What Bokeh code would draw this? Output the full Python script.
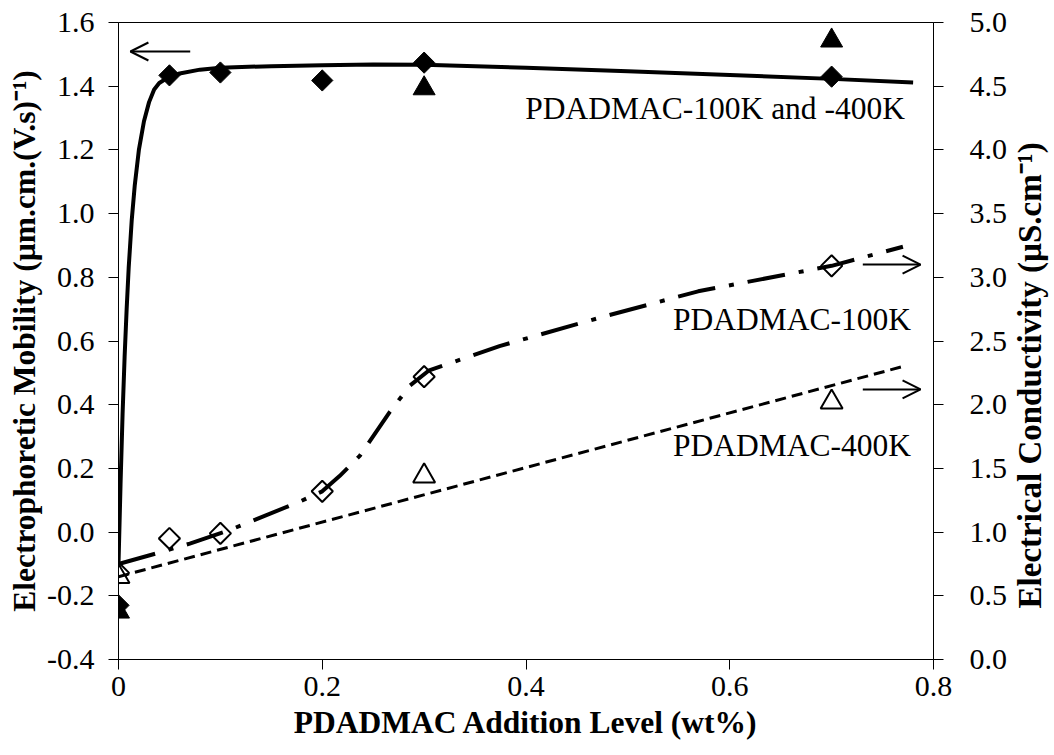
import math
from bokeh.plotting import figure
from bokeh.layouts import row
from bokeh.models import Range1d, LinearAxis, FixedTicker, Arrow, OpenHead, Label
from bokeh.core.properties import value
from bokeh.embed import file_html
from bokeh.resources import INLINE

# ---- tick values / labels ----
x_ticks = [0, 0.2, 0.4, 0.6, 0.8]
x_tick_labels = ["0", "0.2", "0.4", "0.6", "0.8"]
left_ticks = [-0.4, -0.2, 0.0, 0.2, 0.4, 0.6, 0.8, 1.0, 1.2, 1.4, 1.6]
left_tick_labels = ["-0.4", "-0.2", "0.0", "0.2", "0.4", "0.6", "0.8", "1.0", "1.2", "1.4", "1.6"]
right_ticks = [0.0, 0.5, 1.0, 1.5, 2.0, 2.5, 3.0, 3.5, 4.0, 4.5, 5.0]
right_tick_labels = ["0.0", "0.5", "1.0", "1.5", "2.0", "2.5", "3.0", "3.5", "4.0", "4.5", "5.0"]

# ---- electrophoretic mobility (left axis), filled markers ----
mob100_x = [0, 0.05, 0.1, 0.2, 0.3, 0.7]
mob100_y = [-0.23, 1.434, 1.443, 1.418, 1.474, 1.43]
mob400_x = [0, 0.3, 0.7]
mob400_y = [-0.25, 1.393, 1.543]

# fitted mobility curve
mobfit_x = [0, 0.002, 0.004, 0.006, 0.008, 0.010, 0.013, 0.016, 0.020, 0.025, 0.030,
            0.035, 0.040, 0.050, 0.060, 0.080, 0.10, 0.15, 0.20, 0.25, 0.30, 0.40,
            0.50, 0.60, 0.70, 0.78]
mobfit_y = [-0.10, 0.15, 0.37, 0.55, 0.70, 0.83, 0.98, 1.09, 1.20, 1.29, 1.35,
            1.39, 1.41, 1.43, 1.44, 1.452, 1.458, 1.463, 1.466, 1.468, 1.467, 1.458,
            1.447, 1.435, 1.423, 1.412]

# ---- electrical conductivity (right axis), open markers ----
cond100_x = [0, 0.05, 0.1, 0.2, 0.3, 0.7]
cond100_y = [0.68, 0.95, 0.99, 1.32, 2.22, 3.09]
cond400_x = [0, 0.3, 0.7]
cond400_y = [0.65, 1.44, 2.02]

cond100fit_x = [0, 0.036, 0.07, 0.107, 0.126, 0.178, 0.2, 0.217, 0.237, 0.266, 0.286,
                0.305, 0.374, 0.471, 0.569, 0.7, 0.77]
cond100fit_y = [0.75, 0.83, 0.91, 1.01, 1.07, 1.24, 1.32, 1.44, 1.60, 1.94, 2.15,
                2.27, 2.46, 2.68, 2.89, 3.09, 3.24]
cond400fit_x = [0, 0.77]
cond400fit_y = [0.65, 2.30]

# ---- annotation texts ----
label_text = ["PDADMAC-100K and -400K", "PDADMAC-100K", "PDADMAC-400K"]
x_title = "PDADMAC Addition Level (wt%)"
left_title = "Electrophoretic Mobility (µm.cm.(V.s)⁻¹)"
right_title = "Electrical Conductivity (µS.cm⁻¹)"

# ---- layout/positions (not data) ----
label_x = [0.772, 0.778, 0.778]
label_y = [1.33, 0.668, 0.271]

FONT = "Liberation Serif"

p = figure(width=1010, height=755, output_backend="svg", toolbar_location=None,
           x_range=Range1d(0, 0.8), y_range=Range1d(-0.4, 1.6),
           min_border_left=118, min_border_right=74, min_border_top=22,
           min_border_bottom=96)
p.extra_y_ranges = {"right": Range1d(0, 5)}
p.background_fill_color = "white"
p.border_fill_color = "white"
p.outline_line_color = "black"
p.outline_line_width = 1
p.xgrid.visible = False
p.ygrid.visible = False


def style_axis(ax, ticks, labels, standoff):
    ax.ticker = FixedTicker(ticks=ticks)
    ax.major_label_overrides = {t: l for t, l in zip(ticks, labels)}
    ax.minor_tick_line_color = None
    ax.major_tick_in = 0
    ax.major_tick_out = 10
    ax.axis_line_color = "black"
    ax.major_tick_line_color = "black"
    ax.major_label_text_font = FONT
    ax.major_label_text_font_size = "30px"
    ax.major_label_text_color = "black"
    ax.major_label_standoff = standoff
    ax.axis_label_text_font = FONT
    ax.axis_label_text_font_size = "31.5px"
    ax.axis_label_text_font_style = "bold"
    ax.axis_label_text_color = "black"


style_axis(p.xaxis[0], x_ticks, x_tick_labels, 7)
p.xaxis[0].axis_label = x_title
p.xaxis[0].axis_label_standoff = 6

style_axis(p.yaxis[0], left_ticks, left_tick_labels, 14)
p.yaxis[0].axis_label = left_title
p.yaxis[0].axis_label_standoff = 2

raxis = LinearAxis(y_range_name="right")
style_axis(raxis, right_ticks, right_tick_labels, 26)
p.add_layout(raxis, "right")

# open markers (conductivity)
p.scatter(cond100_x, cond100_y, y_range_name="right", marker="square", angle=math.pi / 4,
          size=15, fill_color="white", line_color="black", line_width=2)
p.scatter(cond400_x, cond400_y, y_range_name="right", marker="triangle",
          size=22, fill_color="white", line_color="black", line_width=2)

# fitted curves
p.line(mobfit_x, mobfit_y, line_color="black", line_width=4)
p.line(cond100fit_x, cond100fit_y, y_range_name="right", line_color="black",
       line_width=4, line_dash="38 14 5 14")
p.line(cond400fit_x, cond400fit_y, y_range_name="right", line_color="black",
       line_width=3, line_dash="11 6")

# filled markers (mobility)
p.scatter(mob100_x, mob100_y, marker="square", angle=math.pi / 4, size=15,
          fill_color="black", line_color="black")
p.scatter(mob400_x, mob400_y, marker="triangle", size=22,
          fill_color="black", line_color="black")

# arrows
p.add_layout(Arrow(end=OpenHead(size=18, line_width=2, line_color="black"),
                   x_start=0.0704, y_start=1.509, x_end=0.0117, y_end=1.509,
                   line_width=2, line_color="black"))
p.add_layout(Arrow(end=OpenHead(size=18, line_width=2, line_color="black"),
                   x_start=0.7306, y_start=3.10, x_end=0.7873, y_end=3.10,
                   y_range_name="right", line_width=2, line_color="black"))
p.add_layout(Arrow(end=OpenHead(size=18, line_width=2, line_color="black"),
                   x_start=0.7306, y_start=2.12, x_end=0.7873, y_end=2.12,
                   y_range_name="right", line_width=2, line_color="black"))

p.text(x=label_x, y=label_y, text=label_text, text_align="right",
       text_baseline="middle", text_font=value(FONT), text_font_size="31.5px",
       text_color="black")

# right-hand axis title (reads bottom to top) in a narrow companion panel
p2 = figure(width=44, height=755, output_backend="svg", toolbar_location=None,
            x_range=Range1d(0, 1), y_range=Range1d(0, 1),
            min_border_left=0, min_border_right=0, min_border_top=0,
            min_border_bottom=0)
p2.axis.visible = False
p2.grid.visible = False
p2.outline_line_color = None
p2.background_fill_color = "white"
p2.border_fill_color = "white"
p2.add_layout(Label(x=0.45, y=0.446, text=right_title, angle=math.pi / 2,
                    text_font=FONT, text_font_size="33px", text_font_style="bold",
                    text_color="black", text_align="center", text_baseline="middle"))

layout = row(p, p2, spacing=0)
open("out.html", "w").write(file_html(layout, INLINE))
